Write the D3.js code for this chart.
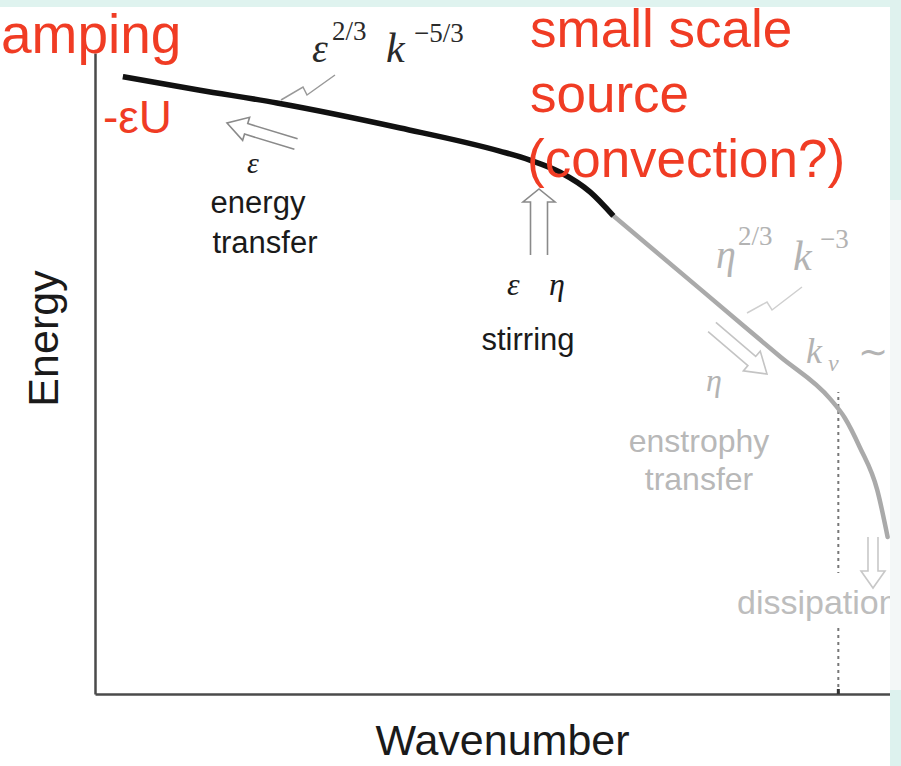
<!DOCTYPE html>
<html>
<head>
<meta charset="utf-8">
<script src="https://cdn.jsdelivr.net/npm/d3@7"></script>
<style>
  html, body { margin: 0; padding: 0; background: #fff; }
  svg { display: block; }
</style>
</head>
<body>
<div id="chart-container"></div>
<script>
// schematic 2D turbulence spectrum: energy vs wavenumber (arbitrary units 0..100)
const inverseCascadeK = [3.5, 13.2, 22.9, 38.4, 50.9, 54.7, 58.5, 62.3, 65.2];
const inverseCascadeE = [96.3, 94.2, 92.2, 88.3, 84.7, 83.3, 81.4, 78.3, 74.6];
const enstrophyCascadeK = [65.2, 76.1, 86.2, 92.5, 94.3, 96.2, 98.4, 99.7];
const enstrophyCascadeE = [74.6, 63.2, 52.6, 46.0, 43.1, 38.5, 31.8, 24.5];
const kViscous = 93.5;
const kViscousTop = 47.1;
const axisLabels = { x: "Wavenumber", y: "Energy" };

const W = 901, H = 766;
const margin = { top: 53, right: 11, bottom: 72, left: 95 };

const svg = d3.select("#chart-container")
  .append("svg")
  .attr("width", W)
  .attr("height", H);

const x = d3.scaleLinear().domain([0, 100]).range([margin.left, W - margin.right]);
const y = d3.scaleLinear().domain([0, 100]).range([H - margin.bottom, margin.top]);

const red = "#f03c24";
const dark = "#1a1a1a";
const light = "#b3b3b3";
const sans = "Liberation Sans, Arial, sans-serif";
const serif = "Liberation Serif, Times New Roman, serif";

// background band at top
svg.append("rect").attr("x", 0).attr("y", 0).attr("width", W).attr("height", 7).attr("fill", "#dff3ef");

// axes (no ticks, just the domain lines)
const xAxis = svg.append("g")
  .attr("transform", `translate(0,${y(0)})`)
  .call(d3.axisBottom(x).ticks(0).tickSizeOuter(0));
const yAxis = svg.append("g")
  .attr("transform", `translate(${x(0)},0)`)
  .call(d3.axisLeft(y).ticks(0).tickSizeOuter(0));
[xAxis, yAxis].forEach(a => a.select(".domain").attr("stroke", "#4a4a4a").attr("stroke-width", 2.5));

// axis titles
svg.append("text")
  .attr("x", (x(0) + x(100)) / 2 + 10).attr("y", 755)
  .attr("text-anchor", "middle")
  .attr("font-family", sans)
  .attr("font-size", 43).attr("fill", dark)
  .text(axisLabels.x);
svg.append("text")
  .attr("transform", `translate(58,${(y(0) + y(100)) / 2 - 35}) rotate(-90)`)
  .attr("text-anchor", "middle")
  .attr("font-family", sans)
  .attr("font-size", 43).attr("fill", dark)
  .text(axisLabels.y);

// viscous cutoff marker
svg.append("line")
  .attr("x1", x(kViscous)).attr("x2", x(kViscous))
  .attr("y1", y(0)).attr("y2", y(kViscousTop))
  .attr("stroke", "#777").attr("stroke-width", 2)
  .attr("stroke-dasharray", "3,4");
svg.append("line")
  .attr("x1", x(kViscous)).attr("x2", x(kViscous))
  .attr("y1", y(0) - 5).attr("y2", y(0))
  .attr("stroke", "#333").attr("stroke-width", 3);

// spectrum
const line = d3.line()
  .x(d => x(d[0]))
  .y(d => y(d[1]))
  .curve(d3.curveMonotoneX);

svg.append("path")
  .datum(d3.zip(enstrophyCascadeK, enstrophyCascadeE))
  .attr("fill", "none").attr("stroke", "#aaaaaa").attr("stroke-width", 4.5)
  .attr("stroke-linecap", "round")
  .attr("d", line);
svg.append("path")
  .datum(d3.zip(inverseCascadeK, inverseCascadeE))
  .attr("fill", "none").attr("stroke", "#111").attr("stroke-width", 5.5)
  .attr("d", line);

// hollow open-tailed arrow
function hollowArrow(tail, tip, shaftHalf, headHalf, headLen, color) {
  const dx = tip[0] - tail[0], dy = tip[1] - tail[1];
  const len = Math.hypot(dx, dy);
  const ux = dx / len, uy = dy / len;
  const nx = -uy, ny = ux;
  const bx = tip[0] - ux * headLen, by = tip[1] - uy * headLen;
  const pts = [
    [tail[0] + nx * shaftHalf, tail[1] + ny * shaftHalf],
    [bx + nx * shaftHalf, by + ny * shaftHalf],
    [bx + nx * headHalf, by + ny * headHalf],
    tip,
    [bx - nx * headHalf, by - ny * headHalf],
    [bx - nx * shaftHalf, by - ny * shaftHalf],
    [tail[0] - nx * shaftHalf, tail[1] - ny * shaftHalf]
  ];
  svg.append("path")
    .attr("d", d3.line()(pts))
    .attr("fill", "none").attr("stroke", color).attr("stroke-width", 1.6)
    .attr("stroke-linejoin", "miter");
}

function label(txt, px, py, size, color, opts = {}) {
  return svg.append("text")
    .attr("x", px).attr("y", py)
    .attr("text-anchor", opts.anchor || "start")
    .attr("font-family", opts.family || sans)
    .attr("font-style", opts.italic ? "italic" : "normal")
    .attr("font-size", size)
    .attr("fill", color)
    .text(txt);
}

// dissipation label sits on a white patch that breaks the dotted line
svg.append("rect").attr("x", 735).attr("y", 573).attr("width", 160).attr("height", 54).attr("fill", "#fff");
label("dissipation", 737, 614, 34, "#bdbdbd");

hollowArrow([296, 144], [227, 123], 5.5, 12, 20, "#8a8a8a");
hollowArrow([539, 255], [539, 189], 8.5, 16, 13, "#8a8a8a");
hollowArrow([712, 327], [767, 374], 6, 13, 20, "#c4c4c4");
hollowArrow([873, 537], [873, 588], 5, 12, 17, "#c8c8c8");

// zigzag leaders
svg.append("path")
  .attr("d", d3.line()([[281, 100], [303, 87], [307, 95], [335, 75]]))
  .attr("fill", "none").attr("stroke", "#999").attr("stroke-width", 1.5);
svg.append("path")
  .attr("d", d3.line()([[747, 313], [767, 302], [772, 310], [802, 287]]))
  .attr("fill", "none").attr("stroke", "#cfcfcf").attr("stroke-width", 1.5);

// black annotations
label("ε", 253, 173, 30, dark, { family: serif, italic: true, anchor: "middle" });
label("energy", 258, 213, 31, dark, { anchor: "middle" });
label("transfer", 265, 253, 31, dark, { anchor: "middle" });
label("ε", 507, 295, 32, dark, { family: serif, italic: true });
label("η", 549, 295, 32, dark, { family: serif, italic: true });
label("stirring", 528, 350, 31, dark, { anchor: "middle" });

const m1 = svg.append("text")
  .attr("font-family", serif).attr("fill", "#2a2a2a");
m1.append("tspan").attr("x", 312).attr("y", 62).attr("font-size", 40).attr("font-style", "italic").text("ε");
m1.append("tspan").attr("x", 332).attr("y", 40).attr("font-size", 27).text("2/3");
m1.append("tspan").attr("x", 386).attr("y", 62).attr("font-size", 42).attr("font-style", "italic").text("k");
m1.append("tspan").attr("x", 414).attr("y", 42).attr("font-size", 27).text("−5/3");

// grey annotations
const m2 = svg.append("text")
  .attr("font-family", serif).attr("fill", light);
m2.append("tspan").attr("x", 716).attr("y", 268).attr("font-size", 40).attr("font-style", "italic").text("η");
m2.append("tspan").attr("x", 738).attr("y", 245).attr("font-size", 27).text("2/3");
m2.append("tspan").attr("x", 793).attr("y", 270).attr("font-size", 42).attr("font-style", "italic").text("k");
m2.append("tspan").attr("x", 820).attr("y", 248).attr("font-size", 27).text("−3");

label("η", 706, 391, 32, light, { family: serif, italic: true });
const kv = svg.append("text").attr("font-family", serif).attr("fill", light).attr("font-style", "italic");
kv.append("tspan").attr("x", 806).attr("y", 363).attr("font-size", 36).text("k");
kv.append("tspan").attr("x", 828).attr("y", 371).attr("font-size", 24).text("ν");
label("∼", 858, 364, 36, light, { family: serif });

label("enstrophy", 699, 452, 32, "#b8b8b8", { anchor: "middle" });
label("transfer", 699, 490, 32, "#b8b8b8", { anchor: "middle" });

// red overlay notes (the first word runs off the left edge in the source, only "amping" shows)
label("amping", 1, 53, 55, red);
label("-εU", 103, 133, 46, red);
label("small scale", 530, 47, 53, red);
label("source", 530, 112, 53, red);
label("(convection?)", 527, 177, 53, red);

// right-hand strip of the neighbouring pane
svg.append("rect").attr("x", 890).attr("y", 0).attr("width", 11).attr("height", 200).attr("fill", "#dff2ee");
svg.append("rect").attr("x", 890).attr("y", 200).attr("width", 11).attr("height", 490).attr("fill", "#f3f7f7");
svg.append("rect").attr("x", 890).attr("y", 690).attr("width", 11).attr("height", 76).attr("fill", "#ddf2ee");
</script>
</body>
</html>
